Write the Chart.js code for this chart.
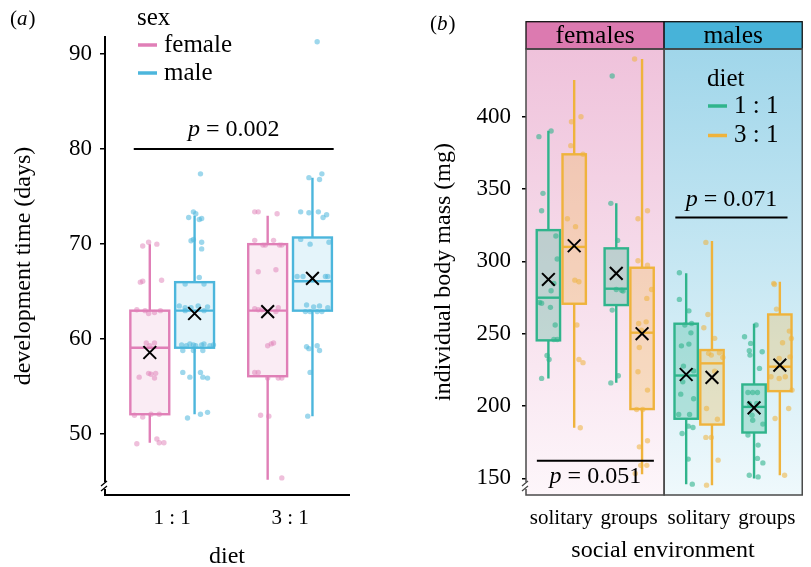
<!DOCTYPE html>
<html>
<head>
<meta charset="utf-8">
<script src="https://cdn.jsdelivr.net/npm/chart.js@4.4.1/dist/chart.umd.min.js"></script>
<style>
  html, body { margin: 0; padding: 0; background: #fff; overflow: hidden; }
  #wrap { position: relative; width: 811px; height: 567px; overflow: hidden; }
  canvas { position: absolute; top: 0; }
  #devChart { left: 0; }
  #massChart { left: 420px; }
</style>
</head>
<body>
<div id="wrap">
  <canvas id="devChart" width="420" height="580"></canvas>
  <canvas id="massChart" width="391" height="580"></canvas>
</div>
<script>
const SERIF = "'Liberation Serif', 'Times New Roman', serif";

// ---------- panel (a): development time ----------
const dietLabels = ['1 : 1', '3 : 1'];
const dietPos = [1, 2];
const sexLabels = ['female', 'male'];
const sexColors = ['#e07fb7', '#4cb6dc'];
const sexOffset = [-0.19, 0.19];
const devTicks = [50, 60, 70, 80, 90];

// [lower whisker, q1, median, q3, upper whisker] per diet
const devFemaleBox = [[49.1, 52.1, 59.1, 63.0, 70.0], [45.2, 56.1, 63.0, 70.0, 73.0]];
const devMaleBox = [[52.1, 59.1, 63.0, 66.0, 73.0], [51.9, 63.0, 66.1, 70.7, 77.0]];
const devFemaleMean = [58.6, 62.9];
const devMaleMean = [62.7, 66.4];

// jittered observations: [x jitter, days]
const devFemalePts = [
  [[-0.06,69.8],[-0.01,70.2],[0.06,70.0],[-0.08,66.0],[-0.06,66.1],[0.10,66.2],[-0.11,63.1],[-0.04,63.0],[-0.01,62.7],
   [0.04,62.8],[0.09,63.0],[-0.03,59.6],[0.04,59.6],[0.00,59.3],[-0.09,56.0],[-0.01,56.4],[0.01,56.3],[0.05,56.4],
   [0.04,55.9],[-0.13,52.0],[-0.06,51.8],[0.01,52.1],[0.08,52.1],[-0.11,49.0],[0.06,49.5],[0.08,49.1],[0.12,49.1]],
  [[-0.11,73.4],[-0.08,73.4],[0.08,73.2],[-0.11,70.4],[-0.04,69.9],[-0.02,69.9],[0.05,70.4],[0.10,69.9],[0.12,69.9],
   [-0.08,67.1],[0.07,67.3],[-0.11,63.2],[-0.08,63.1],[-0.05,63.1],[0.07,62.9],[0.09,63.3],[0.00,59.3],[0.03,59.5],
   [0.05,59.6],[-0.11,56.5],[-0.08,56.5],[0.00,55.9],[0.09,55.9],[0.12,55.9],[-0.06,52.0],[0.01,51.9],[0.12,45.4]]
];
const devMalePts = [
  [[0.05,77.4],[-0.01,73.4],[0.01,73.2],[-0.05,72.8],[0.04,72.6],[0.06,72.7],[-0.03,70.35],[-0.01,70.5],[0.06,70.2],
   [0.06,69.5],[0.04,66.5],[-0.08,65.8],[0.08,65.8],[-0.13,63.5],[-0.08,63.3],[-0.03,63.3],[0.03,63.5],[0.11,63.4],
   [-0.08,63.0],[0.08,63.0],[-0.11,59.4],[-0.07,59.3],[-0.04,59.5],[-0.01,59.4],[0.01,59.3],[0.06,59.4],[0.08,59.5],
   [0.13,59.3],[0.16,59.4],[-0.10,58.8],[-0.01,58.8],[0.07,58.8],[-0.10,56.5],[-0.04,56.0],[0.05,56.5],[0.07,56.0],
   [0.11,55.9],[-0.06,51.7],[0.05,52.1],[0.11,52.3]],
  [[0.04,91.3],[-0.03,77.0],[0.08,77.4],[0.06,76.8],[-0.10,73.4],[-0.03,73.3],[0.05,73.4],[0.09,72.8],[0.12,73.1],
   [-0.10,70.5],[-0.02,70.0],[0.14,70.2],[-0.13,66.6],[-0.08,66.6],[0.11,66.6],[0.13,66.6],[-0.05,63.6],[0.01,63.4],
   [0.06,63.5],[-0.06,62.9],[-0.02,62.9],[0.04,62.9],[0.08,62.9],[0.13,63.3],[-0.05,59.2],[-0.03,59.0],[0.04,59.3],
   [0.06,58.8],[-0.02,56.5],[-0.04,51.9]]
];
const devPValues = ['0.002'];
const devPFrom = [0.674];
const devPTo = [2.37];
const devPY = [80];

// ---------- panel (b): individual body mass ----------
const envLabels = ['solitary', 'groups', 'solitary', 'groups'];
const envPos = [1, 2, 3.03, 4.03];
const facetLabels = ['females', 'males'];
const facetColors = ['#dc7ab0', '#47b3d9'];
const facetStart = [0.48, 2.515];
const facetEnd = [2.515, 4.55];
const dietColors = ['#30b48c', '#efb33c'];
const dietOffset = [-0.19, 0.19];
const massTicks = [150, 200, 250, 300, 350, 400];

// per environment (female solitary, female groups, male solitary, male groups)
const mass11Box = [[219.1,245.4,274.9,321.6,390.3],[216.1,269.8,281.1,309.0,340.1],[146.0,191.2,221.1,256.9,291.7],[149.9,181.7,199.4,214.9,256.9]];
const mass31Box = [[185.0,270.7,310.0,374.0,425.4],[152.9,197.9,250.7,295.6,439.9],[145.3,187.2,229.5,238.7,314.0],[152.2,210.3,227.2,263.3,285.9]];
const mass11Mean = [287.5, 291.7, 221.8, 198.7];
const mass31Mean = [310.8, 250.0, 219.8, 228.3];

const mass11Pts = [
  [[-0.14,386.2],[0.04,390.1],[-0.08,347],[-0.10,335],[0.11,317.5],[0.13,301.6],[0.08,284.8],[-0.13,271.6],[0.04,279.7],
   [0.03,268.2],[-0.10,271],[0.10,256],[0.13,246],[0.08,246],[-0.02,235],[0.01,232.2],[-0.10,219.1]],
  [[-0.06,428.1],[-0.08,340.1],[0.02,314.5],[0.00,280.6],[0.08,280],[0.10,279.5],[-0.06,266.3],[0.03,220.9],[-0.08,216]],
  [[-0.10,292.1],[-0.10,273.7],[0.04,265.8],[0.08,257.1],[-0.02,256],[0.07,250.6],[0.04,242.8],[-0.07,241.6],[-0.04,227.6],
   [0.11,224.3],[-0.05,216.7],[-0.08,208.2],[0.11,205],[-0.11,194.2],[0.05,194.2],[0.03,186.1],[0.10,185.2],[-0.06,181],
   [0.03,163.3],[0.09,146]],
  [[0.03,256],[-0.14,247.9],[-0.05,243.3],[-0.07,238.2],[-0.06,235.2],[0.12,237.5],[0.08,226],[-0.09,209.4],[0.05,209.4],
   [-0.02,209.4],[-0.07,201.8],[0.04,201.8],[-0.03,193.7],[-0.02,190.2],[0.13,187.5],[-0.09,179.9],[0.06,173],[0.05,163.8],
   [0.13,160.7],[-0.07,152.2],[0.06,151]]
];
const mass31Pts = [
  [[-0.04,396.5],[0.10,400],[-0.05,380],[0.13,374],[-0.10,329.5],[0.02,324],[0.01,287],[0.07,285.9],[0.04,256],
   [0.07,232.2],[0.13,230],[0.09,185]],
  [[-0.11,439.9],[0.08,335],[-0.06,329.5],[-0.06,300.4],[0.08,297.4],[0.14,280.6],[0.07,274.4],[-0.05,257.1],[0.06,258.2],
   [-0.01,252.5],[-0.04,240.5],[-0.06,223.7],[0.08,211],[-0.08,197.6],[0.01,197.6],[0.08,176],[-0.04,171.8],[-0.02,159],
   [0.07,159],[-0.10,153.4]],
  [[-0.09,313.1],[-0.06,263.3],[-0.12,254.1],[0.04,246.8],[-0.05,236.4],[-0.01,235.2],[0.11,236.8],[0.16,233.6],[0.04,224.1],
   [-0.08,198.3],[0.08,190.9],[-0.09,178.3],[-0.01,178.3],[0.09,162.6],[-0.08,145.3]],
  [[-0.09,284.8],[-0.08,284],[-0.05,267],[0.14,251.8],[0.17,246.7],[0.04,243.7],[-0.01,232.9],[0.15,234],[-0.13,220.2],
   [-0.01,219],[0.08,220.2],[0.18,211],[0.13,198.3],[-0.07,191.4],[0.07,152.2]]
];
const massPValues = ['0.071', '0.051'];
const massPFrom = [2.68, 0.64];
const massPTo = [4.333, 2.364];
const massPY = [330.4, 162.1];
const massPBelow = [false, true];

// ---------- helpers ----------
function alpha(hex, a) {
  const n = parseInt(hex.slice(1), 16);
  return `rgba(${(n >> 16) & 255}, ${(n >> 8) & 255}, ${n & 255}, ${a})`;
}

function jitterData(centers, offset, pts) {
  return centers.flatMap((c, i) => pts[i].map(([j, v]) => ({ x: c + offset + j, y: v })));
}

function meanData(centers, offset, means) {
  return centers.map((c, i) => ({ x: c + offset, y: means[i] }));
}

// draws "p = value" with an italic p, centred on cx
function drawPText(ctx, cx, baseY, value) {
  const italic = `italic 24px ${SERIF}`;
  const roman = `24px ${SERIF}`;
  const rest = ' = ' + value;
  ctx.font = italic;
  const wP = ctx.measureText('p').width;
  ctx.font = roman;
  const wR = ctx.measureText(rest).width;
  const x0 = cx - (wP + wR) / 2;
  ctx.textAlign = 'left';
  ctx.textBaseline = 'alphabetic';
  ctx.fillStyle = '#000';
  ctx.font = italic;
  ctx.fillText('p', x0, baseY);
  ctx.font = roman;
  ctx.fillText(rest, x0 + wP, baseY);
}

function drawPanelLabel(ctx, x, baseY, letter) {
  const roman = `21px ${SERIF}`;
  const italic = `italic 21px ${SERIF}`;
  ctx.fillStyle = '#000';
  ctx.textAlign = 'left';
  ctx.textBaseline = 'alphabetic';
  ctx.font = roman;
  ctx.fillText('(', x, baseY);
  let w = ctx.measureText('(').width;
  ctx.font = italic;
  ctx.fillText(letter, x + w, baseY);
  w += ctx.measureText(letter).width + 1;
  ctx.font = roman;
  ctx.fillText(')', x + w, baseY);
}

function drawAxisBreak(ctx, area, color) {
  const x = area.left, y = area.bottom;
  ctx.save();
  ctx.fillStyle = '#fff';
  ctx.fillRect(x - 2, y - 13, 4, 7);
  ctx.strokeStyle = color;
  ctx.lineWidth = 1.3;
  ctx.beginPath();
  ctx.moveTo(x - 4, y - 9); ctx.lineTo(x + 2, y - 14);
  ctx.moveTo(x - 4, y - 4); ctx.lineTo(x + 2, y - 9);
  ctx.stroke();
  ctx.restore();
}

function drawLegend(ctx, x, y, title, labels, colors, step) {
  ctx.save();
  ctx.fillStyle = '#000';
  ctx.font = `25px ${SERIF}`;
  ctx.textAlign = 'left';
  ctx.textBaseline = 'middle';
  ctx.fillText(title, x, y);
  labels.forEach((lab, i) => {
    const yy = y + 27 + i * step;
    ctx.strokeStyle = colors[i];
    ctx.lineWidth = 3.5;
    ctx.beginPath();
    ctx.moveTo(x + 1, yy); ctx.lineTo(x + 20, yy);
    ctx.stroke();
    ctx.fillText(lab, x + 27, yy);
  });
  ctx.restore();
}

// box, whiskers and median of each group, drawn through the chart scales
function makeBoxPlugin(groups, half) {
  return {
    id: 'boxes',
    beforeDatasetsDraw(chart) {
      const { ctx, scales: { x, y } } = chart;
      ctx.save();
      ctx.lineWidth = 2.4;
      groups.forEach(g => {
        const xl = x.getPixelForValue(g.x - half);
        const xr = x.getPixelForValue(g.x + half);
        const xc = x.getPixelForValue(g.x);
        const [lo, q1, med, q3, hi] = g.stats.map(v => y.getPixelForValue(v));
        ctx.strokeStyle = g.color;
        ctx.beginPath();
        ctx.moveTo(xc, lo); ctx.lineTo(xc, q1);
        ctx.moveTo(xc, q3); ctx.lineTo(xc, hi);
        ctx.stroke();
        ctx.fillStyle = g.fill;
        ctx.fillRect(xl, q3, xr - xl, q1 - q3);
        ctx.strokeRect(xl, q3, xr - xl, q1 - q3);
        ctx.beginPath();
        ctx.moveTo(xl, med); ctx.lineTo(xr, med);
        ctx.stroke();
      });
      ctx.restore();
    }
  };
}

const tickFont = size => ({ family: SERIF, size });

// ---------- chart (a) ----------
const devGroups = [];
dietPos.forEach((p, i) => {
  devGroups.push({ x: p + sexOffset[0], stats: devFemaleBox[i], color: sexColors[0], fill: alpha(sexColors[0], 0.15) });
  devGroups.push({ x: p + sexOffset[1], stats: devMaleBox[i], color: sexColors[1], fill: alpha(sexColors[1], 0.15) });
});

const devDecor = {
  id: 'devDecor',
  afterDraw(chart) {
    const { ctx, chartArea, scales: { x, y } } = chart;
    devPValues.forEach((pv, i) => {
      const x1 = x.getPixelForValue(devPFrom[i]);
      const x2 = x.getPixelForValue(devPTo[i]);
      drawPText(ctx, (x1 + x2) / 2, y.getPixelForValue(devPY[i]) - 13, pv);
    });
    drawLegend(ctx, 137, 18, 'sex', sexLabels, sexColors, 28);
    drawPanelLabel(ctx, 10, 25, 'a');
    drawAxisBreak(ctx, chartArea, '#000');
  }
};

new Chart(document.getElementById('devChart'), {
  type: 'scatter',
  data: {
    datasets: [
      {
        label: 'mean',
        data: [...meanData(dietPos, sexOffset[0], devFemaleMean), ...meanData(dietPos, sexOffset[1], devMaleMean)],
        pointStyle: 'crossRot', pointRadius: 9, borderColor: '#000', borderWidth: 2, backgroundColor: 'transparent',
        order: 0
      },
      {
        label: 'p',
        type: 'line',
        data: devPValues.map((_, i) => [{ x: devPFrom[i], y: devPY[i] }, { x: devPTo[i], y: devPY[i] }]).flat(),
        borderColor: '#000', borderWidth: 2, pointRadius: 0, fill: false,
        order: 1
      },
      {
        label: sexLabels[0],
        data: jitterData(dietPos, sexOffset[0], devFemalePts),
        backgroundColor: alpha(sexColors[0], 0.5), borderWidth: 0, pointRadius: 2.7,
        order: 2
      },
      {
        label: sexLabels[1],
        data: jitterData(dietPos, sexOffset[1], devMalePts),
        backgroundColor: alpha(sexColors[1], 0.55), borderWidth: 0, pointRadius: 2.7,
        order: 2
      }
    ]
  },
  options: {
    responsive: false,
    animation: false,
    events: [],
    layout: { padding: { top: 37, right: 71, left: 0, bottom: 0 } },
    plugins: { legend: { display: false }, tooltip: { enabled: false } },
    scales: {
      x: {
        type: 'linear', min: 0.43, max: 2.5,
        afterBuildTicks: s => { s.ticks = dietPos.map(v => ({ value: v })); },
        afterFit: s => { s.height = 85; },
        grid: { display: false },
        border: { display: true, color: '#000', width: 2 },
        ticks: { callback: (v, i) => dietLabels[i], color: '#000', font: tickFont(21), padding: 3, maxRotation: 0, autoSkip: false },
        title: { display: true, text: 'diet', color: '#000', font: tickFont(24), padding: { top: 0, bottom: 9 } }
      },
      y: {
        min: 43.6, max: 91.8,
        afterBuildTicks: s => { s.ticks = devTicks.map(v => ({ value: v })); },
        afterFit: s => { s.width = 105; },
        grid: { drawOnChartArea: false, drawTicks: true, tickLength: 5, color: '#000', lineWidth: 1.5 },
        border: { display: true, color: '#000', width: 2 },
        ticks: { color: '#000', font: tickFont(23), padding: 8 },
        title: { display: true, text: 'development time (days)', color: '#000', font: tickFont(24), padding: { top: 9, bottom: 0 } }
      }
    }
  },
  plugins: [makeBoxPlugin(devGroups, 0.165), devDecor]
});

// ---------- chart (b) ----------
const massGroups = [];
envPos.forEach((p, i) => {
  massGroups.push({ x: p + dietOffset[0], stats: mass11Box[i], color: dietColors[0], fill: alpha(dietColors[0], 0.28) });
  massGroups.push({ x: p + dietOffset[1], stats: mass31Box[i], color: dietColors[1], fill: alpha(dietColors[1], 0.28) });
});

const facetBgTop = ['#efc2db', '#a0d6ea'];
const facetBgBottom = ['#fdf6fa', '#eff9fc'];

const massDecor = {
  id: 'massDecor',
  beforeDraw(chart) {
    const { ctx, chartArea: a, scales: { x } } = chart;
    ctx.save();
    facetLabels.forEach((lab, i) => {
      const x1 = x.getPixelForValue(facetStart[i]);
      const x2 = x.getPixelForValue(facetEnd[i]);
      const g = ctx.createLinearGradient(0, a.top, 0, a.bottom);
      g.addColorStop(0, facetBgTop[i]);
      g.addColorStop(1, facetBgBottom[i]);
      ctx.fillStyle = g;
      ctx.fillRect(x1, a.top, x2 - x1, a.bottom - a.top);
    });
    ctx.restore();
  },
  afterDraw(chart) {
    const { ctx, chartArea: a, scales: { x, y } } = chart;
    ctx.save();
    const stripTop = a.top - 27.3;
    facetLabels.forEach((lab, i) => {
      const x1 = x.getPixelForValue(facetStart[i]);
      const x2 = x.getPixelForValue(facetEnd[i]);
      ctx.fillStyle = facetColors[i];
      ctx.fillRect(x1, stripTop, x2 - x1, a.top - stripTop);
      ctx.strokeStyle = '#111';
      ctx.lineWidth = 1.3;
      ctx.strokeRect(x1, stripTop, x2 - x1, a.top - stripTop);
      ctx.fillStyle = '#000';
      ctx.font = `25.5px ${SERIF}`;
      ctx.textAlign = 'center';
      ctx.textBaseline = 'middle';
      ctx.fillText(lab, (x1 + x2) / 2, (stripTop + a.top) / 2 + 0.5);
      ctx.strokeStyle = '#4a4a4a';
      ctx.lineWidth = 1.5;
      ctx.strokeRect(x1, a.top, x2 - x1, a.bottom - a.top);
    });
    ctx.restore();
    massPValues.forEach((pv, i) => {
      const x1 = x.getPixelForValue(massPFrom[i]);
      const x2 = x.getPixelForValue(massPTo[i]);
      const py = y.getPixelForValue(massPY[i]);
      drawPText(ctx, (x1 + x2) / 2, massPBelow[i] ? py + 22.5 : py - 11, pv);
    });
    drawLegend(ctx, 287, 79, 'diet', dietLabels, dietColors, 29.5);
    drawPanelLabel(ctx, 10, 30, 'b');
    drawAxisBreak(ctx, a, '#4a4a4a');
  }
};

const massDatasets = [
  {
    label: 'mean',
    data: [...meanData(envPos, dietOffset[0], mass11Mean), ...meanData(envPos, dietOffset[1], mass31Mean)],
    pointStyle: 'crossRot', pointRadius: 9, borderColor: '#000', borderWidth: 2, backgroundColor: 'transparent',
    order: 0
  },
  ...massPValues.map((_, i) => ({
    label: 'p' + i,
    type: 'line',
    data: [{ x: massPFrom[i], y: massPY[i] }, { x: massPTo[i], y: massPY[i] }],
    borderColor: '#000', borderWidth: 2, pointRadius: 0, fill: false,
    order: 1
  })),
  {
    label: dietLabels[0],
    data: jitterData(envPos, dietOffset[0], mass11Pts),
    backgroundColor: alpha(dietColors[0], 0.6), borderWidth: 0, pointRadius: 2.7,
    order: 2
  },
  {
    label: dietLabels[1],
    data: jitterData(envPos, dietOffset[1], mass31Pts),
    backgroundColor: alpha(dietColors[1], 0.55), borderWidth: 0, pointRadius: 2.7,
    order: 2
  }
];

new Chart(document.getElementById('massChart'), {
  type: 'scatter',
  data: { datasets: massDatasets },
  options: {
    responsive: false,
    animation: false,
    events: [],
    layout: { padding: { top: 49, right: 0, left: 0, bottom: 0 } },
    plugins: { legend: { display: false }, tooltip: { enabled: false } },
    scales: {
      x: {
        type: 'linear', min: 0.48, max: 4.517,
        afterBuildTicks: s => { s.ticks = envPos.map(v => ({ value: v })); },
        afterFit: s => { s.height = 85; },
        grid: { display: false },
        border: { display: false },
        ticks: { callback: (v, i) => envLabels[i], color: '#000', font: tickFont(21), padding: 3, maxRotation: 0, autoSkip: false },
        title: { display: true, text: 'social environment', color: '#000', font: tickFont(24), padding: { top: 0, bottom: 15 } }
      },
      y: {
        min: 138.5, max: 446.8,
        afterBuildTicks: s => { s.ticks = massTicks.map(v => ({ value: v })); },
        afterFit: s => { s.width = 106; },
        grid: { drawOnChartArea: false, drawTicks: true, tickLength: 4, color: '#000', lineWidth: 1.5 },
        border: { display: false },
        ticks: { color: '#000', font: tickFont(23), padding: 11 },
        title: { display: true, text: 'individual body mass (mg)', color: '#000', font: tickFont(24), padding: { top: 9, bottom: 0 } }
      }
    }
  },
  plugins: [makeBoxPlugin(massGroups, 0.172), massDecor]
});
</script>
</body>
</html>
